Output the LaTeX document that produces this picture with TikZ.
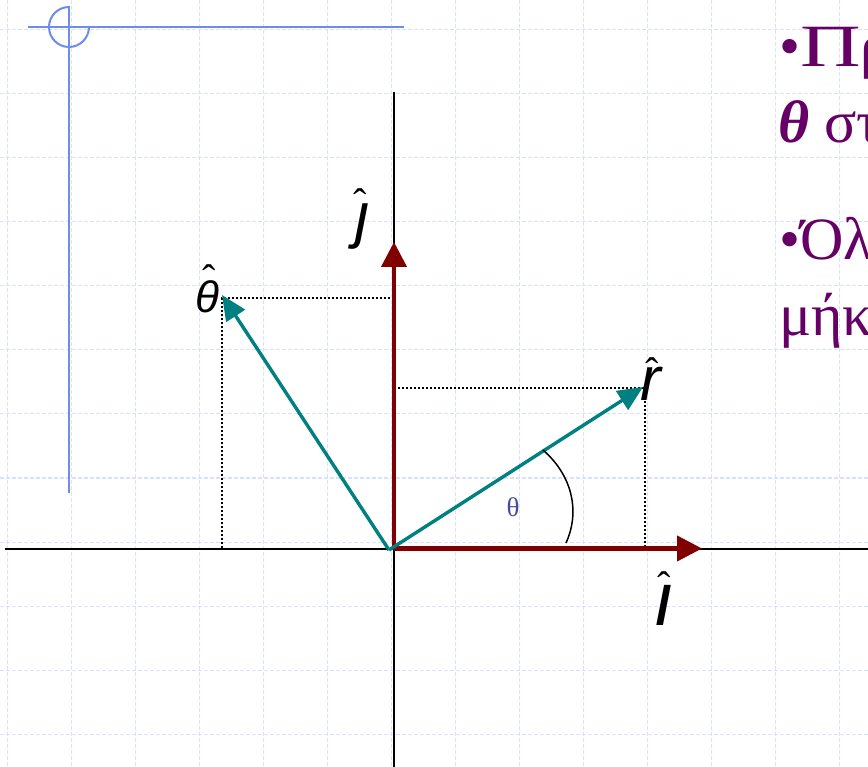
\documentclass[tikz,border=0pt]{standalone}
\usepackage[no-math]{fontspec}
\usepackage{graphicx}
\newfontfamily\lblfam{Liberation Sans}
\newfontfamily\serfam{Liberation Serif}
\usetikzlibrary{arrows.meta}
\definecolor{gridc}{RGB}{218,225,255}
\definecolor{crossc}{RGB}{108,140,240}
\definecolor{vecred}{RGB}{128,0,0}
\definecolor{vecteal}{RGB}{0,128,128}
\definecolor{thetac}{RGB}{72,76,150}
\definecolor{purp}{RGB}{102,0,102}
% #1 size, #2 letter, #3 gap above letter, #4 horizontal shift of the hat
\newcommand\hatlbl[4]{\setbox0=\hbox{\fontsize{#1}{#1}\selectfont\lblfam\itshape #2}\rlap{\hbox to \wd0{\hss\hspace{#4}\raisebox{\dimexpr\ht0+#3-20pt\relax}{\fontsize{40}{40}\selectfont\serfam ˆ}\hss}}\box0}
\begin{document}
\begin{tikzpicture}[x=1pt,y=-1pt,
 gridline/.style={gridc, line width=1.2pt, dash pattern=on 4pt off 2pt},
 crossline/.style={crossc, line width=2pt},
 axis/.style={black, line width=1.3pt},
 redvec/.style={vecred, line width=4.2pt, -{Triangle[length=25pt,width=25pt]}},
 tealvec/.style={vecteal, line width=3.4pt, -{Triangle[length=25pt,width=22pt]}},
 proj/.style={black, line width=1.2pt, dash pattern=on 2pt off 2pt},
 anglearc/.style={black, line width=1.5pt},
 vlabel/.style={inner sep=0pt, black, anchor=base},
 bodytext/.style={inner sep=0pt, anchor=base west, text=purp, font=\serfam\fontsize{60}{60}\selectfont}]
\useasboundingbox (0,0) rectangle (868,767);
\clip (0,0) rectangle (868,767);
\fill[white] (0,0) rectangle (868,767);
% grid
\foreach \i in {0,...,13} \draw[gridline] (7.3+64*\i,0) -- (7.3+64*\i,767);
\foreach \j in {0,...,11} \draw[gridline] (0,29.3+64.1*\j) -- (868,29.3+64.1*\j);
% crosshair
\coordinate (cc) at (69,27);
\draw[crossline] (28,27) -- (404,27);
\draw[crossline] (69,6) -- (69,493);
\draw[crossline] (cc) ++(0,-20) arc[start angle=270, end angle=0, radius=20];
% projections
\coordinate (rx) at (645,548); \coordinate (ry) at (394,388); \coordinate (rc) at (645,388);
\coordinate (tx) at (222,548); \coordinate (ty) at (394,298); \coordinate (tc) at (222,298);
\draw[proj] (ry) -- (rc) -- (rx);
\draw[proj] (ty) -- (tc) -- (tx);
% axes
\coordinate (xl) at (5,549); \coordinate (xr) at (868,549);
\coordinate (yt) at (394,92); \coordinate (yb) at (394,767);
\draw[axis] (xl) -- (xr);
\draw[axis] (yt) -- (yb);
% unit vectors
\coordinate (O) at (394,548.5); \coordinate (itip) at (702,548.5); \coordinate (jtip) at (394,242);
\draw[redvec] (O) -- (itip);
\draw[redvec] (O) -- (jtip);
\coordinate (T) at (389,550); \coordinate (rtip) at (643,387); \coordinate (ttip) at (222,295);
\draw[tealvec] (T) -- (rtip);
\draw[tealvec] (T) -- (ttip);
% angle
\coordinate (a1) at (543,450); \coordinate (a2) at (566,543);
\draw[anglearc] (a1) .. controls (575,478) and (579,515) .. (a2);
\node[text=thetac, font=\serfam\fontsize{27}{27}\selectfont, inner sep=0pt] (ang) at (513,507) {θ};
% labels
\node[vlabel] (jl) at (362,237) {\hatlbl{62}{ȷ}{8pt}{-4pt}};
\node[vlabel] (tl) at (207,313) {\hatlbl{44}{θ}{9pt}{4pt}};
\node[vlabel] (rl) at (651,401) {\hatlbl{62}{r}{2pt}{2pt}};
\node[vlabel] (il) at (664,625) {\hatlbl{76}{ı}{5pt}{1pt}};
% text at right
\node[bodytext] (p1) at (779,67) {•\scalebox{1.4}[1]{Π}ρ};
\node[bodytext] (p2) at (778,143) {{\bfseries\itshape θ} στ};
\node[bodytext] (p3) at (779,260) {•Όλ};
\node[bodytext] (p4) at (779,336) {μήκ};
\end{tikzpicture}
\end{document}
